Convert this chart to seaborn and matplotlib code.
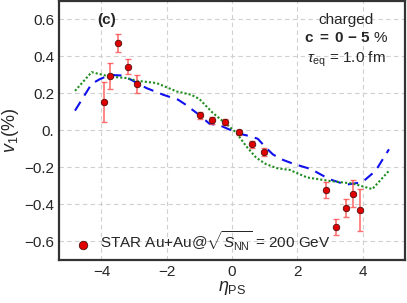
import matplotlib
matplotlib.use("Agg")
import matplotlib.pyplot as plt
import pandas as pd
import seaborn as sns
from matplotlib.ticker import MultipleLocator, FuncFormatter

# STAR data points
star_eta = [-3.91, -3.73, -3.48, -3.19, -2.90, -0.98, -0.62, -0.21, 0.20, 0.60, 0.97,
            2.88, 3.18, 3.48, 3.72, 3.91]
star_v1 = [0.154, 0.295, 0.473, 0.345, 0.252, 0.082, 0.054, 0.047, -0.011, -0.075, -0.116,
           -0.322, -0.522, -0.420, -0.341, -0.429]
star_err = [0.107, 0.070, 0.047, 0.040, 0.048, 0.020, 0.020, 0.015, 0.015, 0.020, 0.020,
            0.045, 0.043, 0.047, 0.073, 0.115]

# model curves
blue_eta = [-4.81, -4.30, -4.05, -3.74, -3.38, -3.08, -2.62, -2.11, -1.65, -1.45, -0.99,
            -0.69, -0.38, -0.08, 0.23, 0.53, 0.79, 1.04, 1.25, 1.50, 1.86, 2.42, 2.98,
            3.49, 3.99, 4.40, 4.81]
blue_v1 = [0.107, 0.252, 0.277, 0.300, 0.297, 0.273, 0.229, 0.193, 0.166, 0.143, 0.082,
           0.036, 0.028, 0.005, -0.018, -0.030, -0.045, -0.093, -0.129, -0.155, -0.179,
           -0.209, -0.263, -0.293, -0.280, -0.218, -0.102]

green_eta = [-4.81, -4.30, -3.74, -3.23, -2.90, -2.31, -1.70, -1.25, -1.00, -0.59, -0.18,
             0.13, 0.43, 0.74, 1.04, 1.40, 1.76, 2.30, 3.00, 3.70, 4.30, 4.81]
green_v1 = [0.214, 0.315, 0.291, 0.283, 0.268, 0.256, 0.211, 0.193, 0.170, 0.095, 0.036,
            -0.012, -0.084, -0.147, -0.182, -0.205, -0.213, -0.254, -0.273, -0.287,
            -0.317, -0.218]

sns.set_style("white")
plt.rcParams['font.family'] = ['Liberation Sans', 'DejaVu Sans']
plt.rcParams['mathtext.fontset'] = 'custom'
plt.rcParams['mathtext.rm'] = 'Liberation Sans'
plt.rcParams['mathtext.it'] = 'Liberation Sans:italic'
plt.rcParams['mathtext.bf'] = 'Liberation Sans:bold'

fig = plt.figure(figsize=(4.07, 3.03), dpi=100)
ax = fig.add_axes([0.145, 0.142, 0.850, 0.855])

df_blue = pd.DataFrame({'eta': blue_eta, 'v1': blue_v1})
df_green = pd.DataFrame({'eta': green_eta, 'v1': green_v1})
sns.lineplot(data=df_blue, x='eta', y='v1', ax=ax, color='#1010ee', lw=1.5,
             linestyle=(0, (5, 3.5)), zorder=3)
sns.lineplot(data=df_green, x='eta', y='v1', ax=ax, color='#1e8c1e', lw=1.5,
             linestyle=(0, (1, 1)), zorder=3)

# error bars
_, caps, bars = ax.errorbar(star_eta, star_v1, yerr=star_err, fmt='none',
                            ecolor=(1, 0.3, 0.3, 0.8), elinewidth=1.2,
                            capsize=2, capthick=1.0, zorder=4)
for c in caps:
    c.set_color('red')
df_star = pd.DataFrame({'eta': star_eta, 'v1': star_v1})
sns.scatterplot(data=df_star, x='eta', y='v1', ax=ax, color='#e00000', s=22,
                edgecolor='#501010', linewidth=0.6, zorder=5,
                label=r'STAR Au+Au@$\sqrt{S_{\rm NN}}$ = 200 GeV')

ax.set_xlim(-5.3, 5.3)
ax.set_ylim(-0.7, 0.7)
ax.xaxis.set_major_locator(MultipleLocator(2))
ax.xaxis.set_minor_locator(MultipleLocator(0.5))
ax.yaxis.set_major_locator(MultipleLocator(0.2))


def yfmt(v, pos):
    if abs(v) < 1e-9:
        return '0.'
    return ('%.1f' % v).replace('-', '\u2212')


def xfmt(v, pos):
    return ('%d' % round(v)).replace('-', '\u2212')


ax.yaxis.set_major_formatter(FuncFormatter(yfmt))
ax.xaxis.set_major_formatter(FuncFormatter(xfmt))
ax.tick_params(which='both', direction='in', top=False, right=False, labelsize=11,
               color='#333333')
ax.tick_params(which='major', length=3, width=0.8)
ax.tick_params(which='minor', length=2, width=0.6)
ax.grid(True, which='major', color='#d0d0d0', linestyle=(0, (4, 3)), lw=0.8)
for s in ax.spines.values():
    s.set_color('#333333')
    s.set_linewidth(1.6)

ax.set_xlabel(r'$\eta_{\rm PS}$', fontsize=13, labelpad=0)
ax.set_ylabel(r'$v_1(\%)$', fontsize=13, labelpad=2)

ax.text(0.11, 0.955, '(c)', transform=ax.transAxes, fontsize=11, fontweight='bold',
        va='top', ha='left')
ax.text(0.83, 0.955, 'charged', transform=ax.transAxes, fontsize=11, va='top', ha='center')
ax.text(0.83, 0.885, r'$\mathbf{c}$ $\mathbf{=}$ $\mathbf{0}$ $\mathbf{-}$ $\mathbf{5}$ %',
        transform=ax.transAxes, fontsize=11, va='top', ha='center')
ax.text(0.83, 0.81, r'$\tau_{\rm eq}$ = 1.0 fm', transform=ax.transAxes, fontsize=11,
        va='top', ha='center')

ax.legend(loc='lower left', frameon=False, fontsize=11, handletextpad=0.1,
          borderaxespad=0.2, bbox_to_anchor=(0.0, -0.01), markerscale=1.3)

fig.savefig('out.png', dpi=100)
